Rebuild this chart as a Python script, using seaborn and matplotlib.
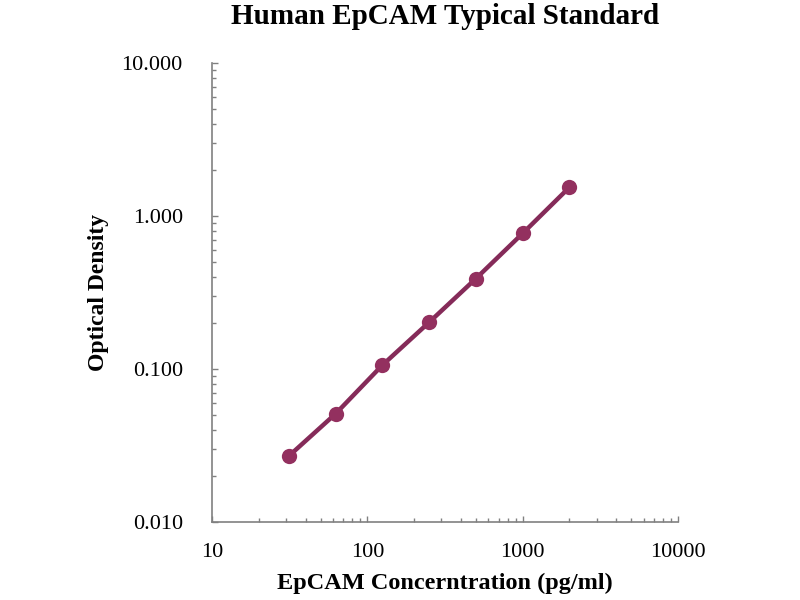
import matplotlib
matplotlib.use("Agg")
import matplotlib.pyplot as plt
import matplotlib.ticker as mticker
import seaborn as sns
import pandas as pd

# Data
concentration = [31.25, 62.5, 125, 250, 500, 1000, 2000]
optical_density = [0.027, 0.051, 0.106, 0.202, 0.39, 0.77, 1.54]
x_ticks = [10, 100, 1000, 10000]
x_tick_labels = ["10", "100", "1000", "10000"]
y_ticks = [0.01, 0.1, 1, 10]
y_tick_labels = ["0.010", "0.100", "1.000", "10.000"]

title = "Human EpCAM Typical Standard"
x_label = "EpCAM Concerntration (pg/ml)"
y_label = "Optical Density"

sns.set_style("ticks")
plt.rcParams["font.family"] = ["Liberation Serif", "DejaVu Serif"]
plt.rcParams["text.color"] = "black"
plt.rcParams["axes.labelcolor"] = "black"

df = pd.DataFrame({"conc": concentration, "od": optical_density})

fig = plt.figure(figsize=(8, 6), dpi=100)
ax = fig.add_axes([0.265, 0.13, 0.5825, 0.765])
ax.set_xscale("log")
ax.set_yscale("log")

color = "#852B59"
sns.lineplot(data=df, x="conc", y="od", ax=ax, color=color, linewidth=3.2,
             marker="o", markersize=11, markeredgewidth=0,
             markerfacecolor="#93305F")

ax.set_xlim(10, 10000)
ax.set_ylim(0.01, 10)

ax.set_xticks(x_ticks)
ax.set_xticklabels(x_tick_labels)
ax.set_yticks(y_ticks)
ax.set_yticklabels(y_tick_labels)
ax.xaxis.set_minor_locator(mticker.LogLocator(base=10, subs=range(2, 10)))
ax.yaxis.set_minor_locator(mticker.LogLocator(base=10, subs=range(2, 10)))
ax.xaxis.set_minor_formatter(mticker.NullFormatter())
ax.yaxis.set_minor_formatter(mticker.NullFormatter())

spine_color = "#808080"
for side in ["top", "right"]:
    ax.spines[side].set_visible(False)
for side in ["left", "bottom"]:
    ax.spines[side].set_color(spine_color)
    ax.spines[side].set_linewidth(1.2)

ax.tick_params(axis="both", which="both", bottom=True, left=True,
               top=False, right=False)
ax.tick_params(axis="both", which="major", direction="in", length=4.5,
               width=1.0, color=spine_color, labelsize=16, labelcolor="black")
ax.tick_params(axis="both", which="minor", direction="in", length=3,
               width=1.0, color=spine_color)
ax.tick_params(axis="y", which="major", pad=21)
ax.tick_params(axis="x", which="major", pad=15)

ax.set_title(title, fontsize=21, fontweight="bold", pad=28, color="black")
ax.set_xlabel(x_label, fontsize=17.5, fontweight="bold", labelpad=8, color="black")
ax.set_ylabel(y_label, fontsize=17, fontweight="bold", labelpad=9, color="black")

fig.savefig("out.png", dpi=100, facecolor="white")
